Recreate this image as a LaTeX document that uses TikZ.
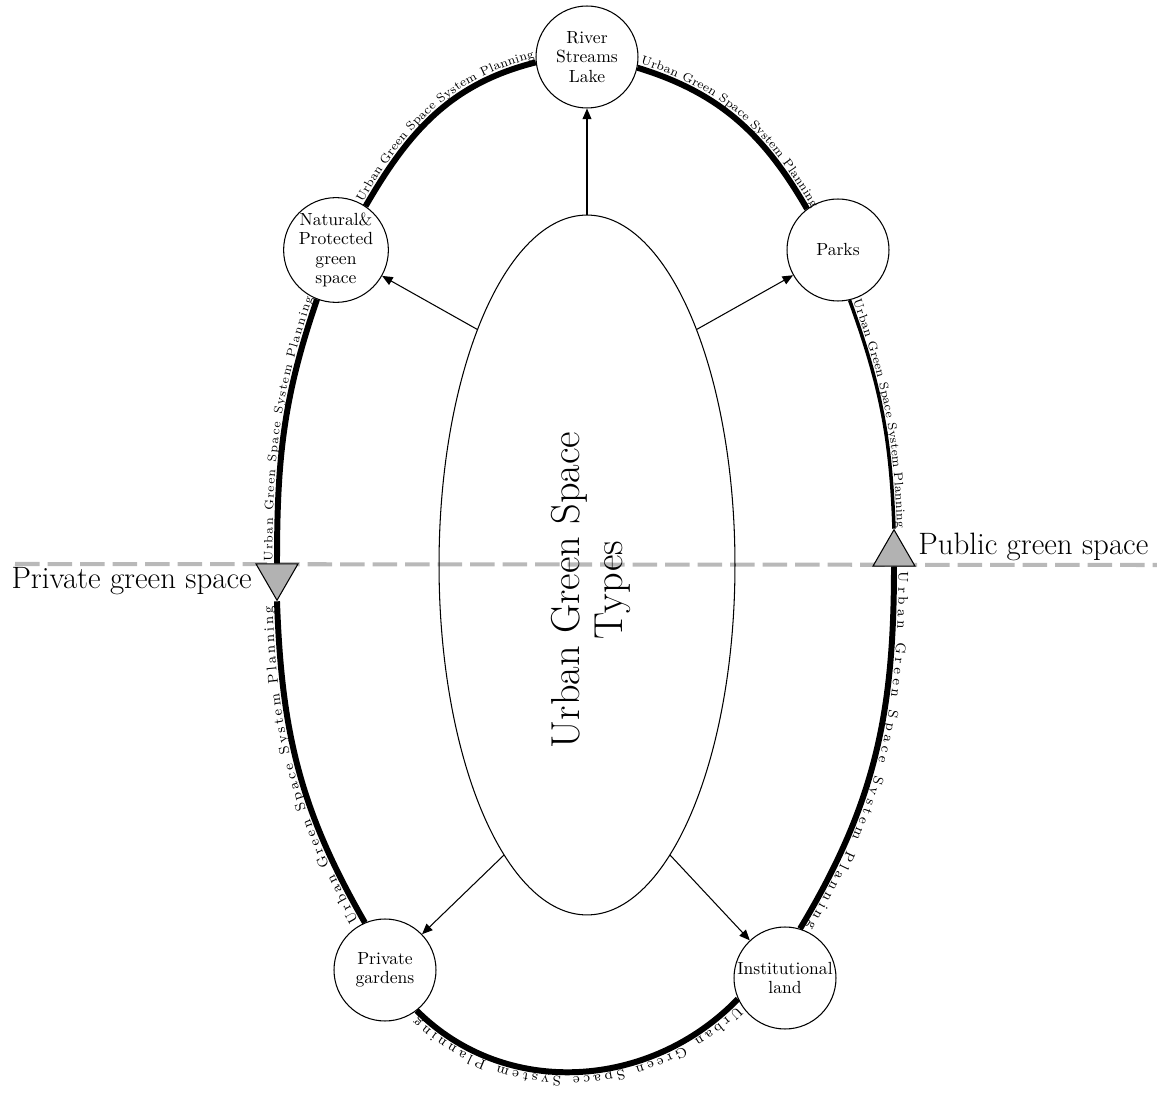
\documentclass[tikz,border=0pt]{standalone}
\usetikzlibrary{shapes.geometric,arrows.meta,decorations.text}
\definecolor{dashgray}{RGB}{185,185,185}
\definecolor{trigray}{RGB}{178,178,178}
\newcommand\arcfont{\fontsize{8}{9}\selectfont}
\newcommand\arcfontsmall{\fontsize{7}{8}\selectfont}
\tikzset{
  circ/.style={circle,draw,line width=0.6pt,fill=white,minimum size=2.04cm,inner sep=0pt,align=center,font=\fontsize{10}{11}\selectfont},
  tri/.style={regular polygon,regular polygon sides=3,draw,line width=0.6pt,fill=trigray,minimum size=0.97cm,inner sep=0pt},
  arr/.style={-{Triangle[length=6pt,width=5pt]},line width=0.6pt},
  ring/.style={line width=3.4pt},
  ringthin/.style={line width=2pt},
  ringtext/.style={postaction={decorate,decoration={text along path,raise=#1,text align={fit to path,left indent=3pt,right indent=3pt},text={|\arcfont|Urban Green Space System Planning}}}},
  ringtext/.default=2.6pt,
  ringtextsmall/.style={postaction={decorate,decoration={text along path,raise=#1,text align={fit to path,left indent=1pt,right indent=0pt},text={|\arcfontsmall|Urban Green Space System Planning}}}},
  ringtextsmall/.default=2.6pt,
  biglabel/.style={font=\fontsize{17.6}{19}\selectfont,inner sep=0pt}
}
\begin{document}
\begin{tikzpicture}[x=0.02cm,y=0.02cm]
\useasboundingbox (0,0) rectangle (1157,-1094);
% dashed divider
\coordinate (dl) at (15,-564);
\coordinate (dr) at (1157,-565);
\draw[dashgray,line width=2.3pt,dash pattern=on 14pt off 4.5pt] (dl) -- (dr);
% central ellipse
\node[ellipse,draw,line width=0.6pt,minimum width=5.92cm,minimum height=14cm,inner sep=0pt] (types) at (587,-565) {};
\node[rotate=90,align=center,font=\fontsize{23}{24}\selectfont] (typestext) at (591,-590) {Urban Green Space\\Types};
% circles
\node[circ] (river) at (587,-57) {River\\Streams\\Lake};
\node[circ] (nat) at (336,-250) {Natural\&\\Protected\\green\\space};
\node[circ] (parks) at (838,-250) {Parks};
\node[circ] (priv) at (385,-970) {Private\\gardens};
\node[circ] (inst) at (785,-978) {Institutional\\land};
% triangles
\node[tri,shape border rotate=180] (triL) at (277,-576) {};
\node[tri] (triR) at (894,-554) {};
% labels
\node[biglabel,anchor=east] (privlabel) at (252,-581) {Private green space};
\node[biglabel,anchor=west] (publabel) at (918,-547) {Public green space};
% arrows
\draw[arr] (types.north) -- (river);
\draw[arr] (types.115) -- (nat);
\draw[arr] (types.65) -- (parks);
\draw[arr] (types.254) -- (priv);
\draw[arr] (types.286) -- (inst);
% ring
\draw[ring,ringtextsmall] (nat.56) to[out=60,in=194] (river.186);
\draw[ring,ringtextsmall] (river.-12) to[out=-17,in=120] (parks.127);
\draw[ringthin,ringtextsmall=1.8pt] (parks.-77) to[out=-70,in=92] (triR.90);
\draw[ring,ringtext] (triR.270) to[out=-90,in=59] (inst.73);
\draw[ring,ringtext] (inst.204) to[out=226,in=-45] (priv.-52);
\draw[ring,ringtext] (priv.113) to[out=120,in=-88] (triL.270);
\draw[ring,ringtextsmall] (triL.90) to[out=90,in=251] (nat.249);
\end{tikzpicture}
\end{document}
